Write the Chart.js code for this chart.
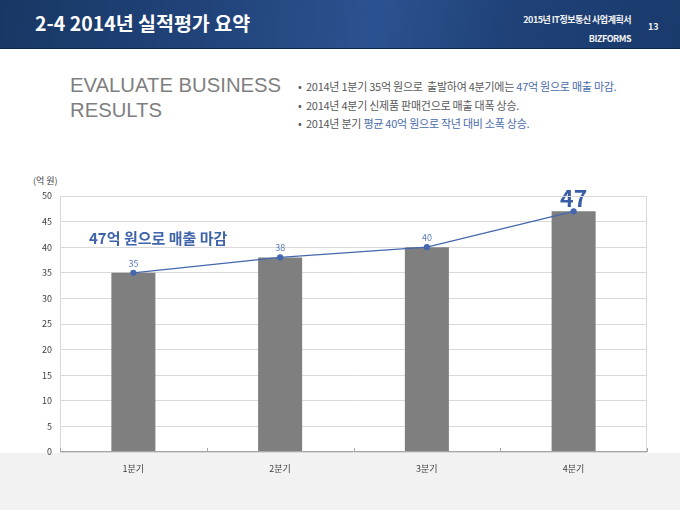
<!DOCTYPE html>
<html>
<head>
<meta charset="utf-8">
<script src="https://cdn.jsdelivr.net/npm/chart.js@4/dist/chart.umd.min.js"></script>
<style>
  body { margin: 0; background: #fff; }
  .page { position: relative; width: 680px; height: 510px; overflow: hidden; background: #fff; font-family: "Noto Sans CJK KR", sans-serif; }
  .header { position: absolute; left: 0; top: 0; width: 680px; height: 48px;
    background: linear-gradient(100deg, #183764 0%, #21437a 30%, #2b5290 55%, #1f4178 75%, #1a3a6c 100%);
    border-bottom: 1px solid #10284e; }
  .title { position: absolute; left: 35px; top: 8px; color: #fff; font-size: 19.5px; font-weight: bold; white-space: nowrap; }
  .doc { position: absolute; right: 49px; top: 10px; color: #f2f2f2; font-size: 9px; font-weight: bold; text-align: right; line-height: 19px; letter-spacing: -0.5px; }
  .pageno { position: absolute; left: 648px; top: 20px; color: #f2f2f2; font-size: 9px; font-weight: bold; }
  .eval { position: absolute; left: 70px; top: 73px; color: #7f7f7f; font-family: "Liberation Sans", Arial, sans-serif; font-size: 20.3px; line-height: 25px; }
  .bullets { position: absolute; left: 298px; top: 77px; color: #595959; font-size: 11px; line-height: 18.5px; white-space: nowrap; letter-spacing: -0.25px; }
  .bullets .blue { color: #4a6cab; }
  .unit { position: absolute; left: 33px; top: 174px; color: #404040; font-size: 9px; }
  .band { position: absolute; left: 0; top: 453px; width: 680px; height: 57px; background: #f2f2f2; }
  .note { position: absolute; left: 89px; top: 227px; color: #3f64a9; font-size: 15px; font-weight: bold; white-space: nowrap; }
  .chartbox { position: absolute; left: 0; top: 170px; width: 680px; height: 340px; }
</style>
</head>
<body>
<div class="page">
  <div class="header"></div>
  <div class="title">2-4 2014년 실적평가 요약</div>
  <div class="doc">2015년 IT정보통신 사업계획서<br>BIZFORMS</div>
  <div class="pageno">13</div>
  <div class="eval">EVALUATE BUSINESS<br>RESULTS</div>
  <div class="bullets">
    •&nbsp;&nbsp;2014년 1분기 35억 원으로 &nbsp;출발하여 4분기에는 <span class="blue">47억 원으로 매출 마감.</span><br>
    •&nbsp;&nbsp;2014년 4분기 신제품 판매건으로 매출 대폭 상승.<br>
    •&nbsp;&nbsp;2014년 분기 <span class="blue">평균 40억 원으로 작년 대비 소폭 상승.</span>
  </div>
  <div class="band"></div>
  <div class="unit">(억 원)</div>
  <div class="chartbox"><canvas id="myChart"></canvas></div>
  <div class="note">47억 원으로 매출 마감</div>
</div>
<script>
const quarters = ["1분기", "2분기", "3분기", "4분기"];
const salesValues = [35, 38, 40, 47];
const trendValues = [35, 38, 40, 47];
const pointLabels = ["35", "38", "40", "47"];
const yMax = 50;
const yStep = 5;

const blue = "#4467ad";

// plot frame plus the small ticks between quarters
const framePlugin = {
  id: "frame",
  afterDraw: (chart) => {
    const ctx = chart.ctx;
    const area = chart.chartArea;
    const xScale = chart.scales.x;
    ctx.save();
    ctx.strokeStyle = "#d9d9d9";
    ctx.lineWidth = 1;
    ctx.beginPath();
    ctx.moveTo(area.left + 0.5, area.bottom);
    ctx.lineTo(area.left + 0.5, area.top + 0.5);
    ctx.lineTo(area.right - 0.5, area.top + 0.5);
    ctx.lineTo(area.right - 0.5, area.bottom);
    ctx.stroke();
    ctx.strokeStyle = "#a6a6a6";
    ctx.beginPath();
    ctx.moveTo(area.left, area.bottom - 0.5);
    ctx.lineTo(area.right, area.bottom - 0.5);
    for (let i = 0; i <= quarters.length; i++) {
      const x = Math.round(xScale.getPixelForValue(i - 0.5)) + 0.5;
      ctx.moveTo(x, area.bottom);
      ctx.lineTo(x, area.bottom - 4);
    }
    ctx.stroke();
    ctx.restore();
  },
};

// value labels above the line points, last one big
const labelPlugin = {
  id: "pointLabels",
  afterDatasetsDraw: (chart) => {
    const ctx = chart.ctx;
    const meta = chart.getDatasetMeta(1);
    ctx.save();
    ctx.textAlign = "center";
    ctx.textBaseline = "bottom";
    meta.data.forEach((pt, i) => {
      if (i === pointLabels.length - 1) {
        ctx.font = "bold 23px 'Noto Sans CJK KR'";
        ctx.fillStyle = "#3a5ea6";
        ctx.fillText(pointLabels[i], pt.x, pt.y - 2);
      } else {
        ctx.font = "9px 'Noto Sans CJK KR'";
        ctx.fillStyle = "#5b7bb8";
        ctx.fillText(pointLabels[i], pt.x, pt.y - 5);
      }
    });
    ctx.restore();
  },
};

const ctx = document.getElementById("myChart").getContext("2d");
const myChart = new Chart(ctx, {
  type: "bar",
  data: {
    labels: quarters,
    datasets: [
      {
        type: "bar",
        data: salesValues,
        backgroundColor: "#7f7f7f",
        barPercentage: 0.3,
        categoryPercentage: 1,
        order: 2,
      },
      {
        type: "line",
        data: trendValues,
        borderColor: blue,
        backgroundColor: blue,
        borderWidth: 1.2,
        pointRadius: 2.5,
        pointHoverRadius: 2.5,
        tension: 0,
        order: 1,
      },
    ],
  },
  options: {
    responsive: true,
    maintainAspectRatio: false,
    animation: false,
    layout: { padding: { top: 26, right: 33, left: 0, bottom: 0 } },
    plugins: {
      legend: { display: false },
      tooltip: { enabled: false },
    },
    scales: {
      x: {
        grid: { display: false },
        border: { display: false },
        ticks: {
          color: "#404040",
          font: { family: "Noto Sans CJK KR", size: 9 },
          padding: 3,
        },
        afterFit: (scale) => { scale.height = 58; },
      },
      y: {
        min: 0,
        max: yMax,
        ticks: {
          stepSize: yStep,
          color: "#404040",
          font: { family: "Noto Sans CJK KR", size: 9 },
          padding: 8,
        },
        grid: { color: "#d9d9d9", drawTicks: false },
        border: { display: false },
        afterFit: (scale) => { scale.width = 60; },
      },
    },
  },
  plugins: [framePlugin, labelPlugin],
});
</script>
</body>
</html>
